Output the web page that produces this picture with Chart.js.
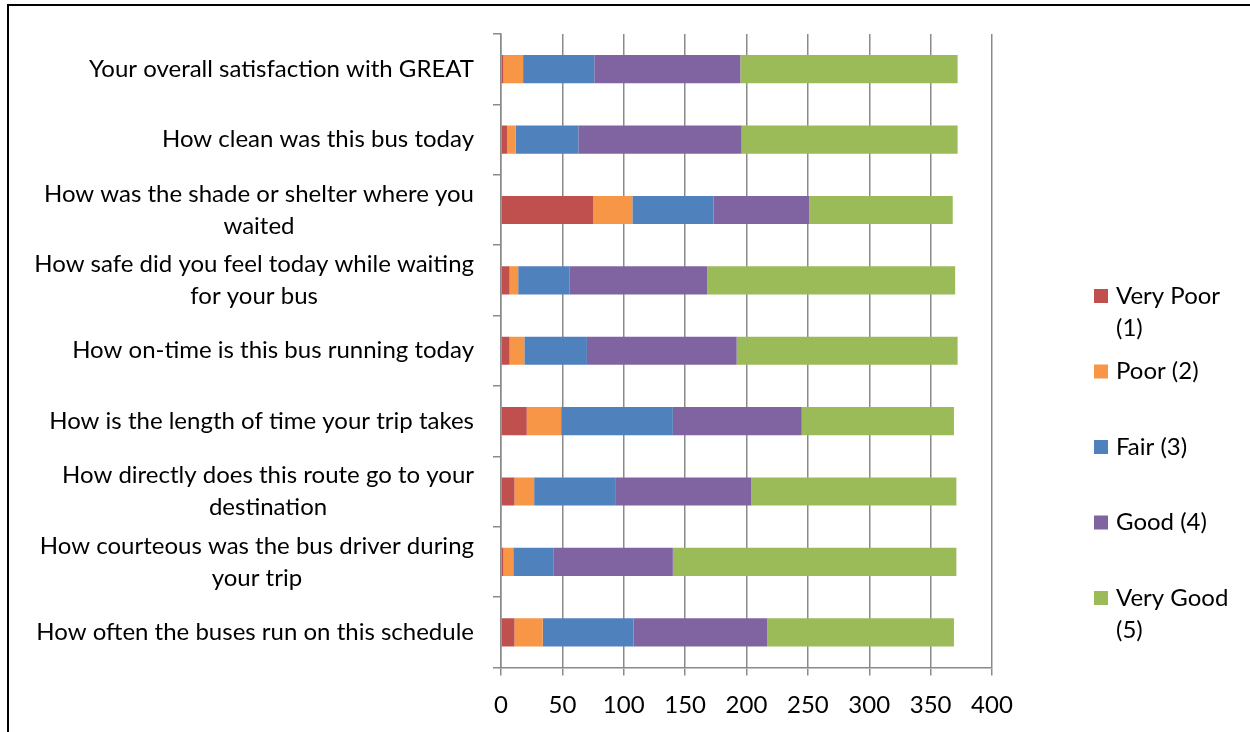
<!DOCTYPE html>
<html><head><meta charset="utf-8">
<script src="https://cdn.jsdelivr.net/npm/chart.js@4/dist/chart.umd.min.js"></script>
<style>
html,body{margin:0;padding:0;background:#fff;}
#wrap{position:relative;width:1250px;height:732px;overflow:hidden;background:#fff;}
#frame{position:absolute;left:7px;top:4px;width:1300px;height:800px;border-left:2px solid #000;border-top:2px solid #000;box-sizing:border-box;pointer-events:none;}
canvas{position:absolute;left:0;top:0;}
</style></head>
<body><div id="wrap"><canvas id="c" width="1250" height="732"></canvas><div id="frame"></div></div>
<script>
// Categories, top to bottom (each entry = wrapped lines of the label)
const categories = [
  ['Your overall satisfaction with GREAT'],
  ['How clean was this bus today'],
  ['How was the shade or shelter where you', 'waited'],
  ['How safe did you feel today while waiting', 'for your bus'],
  ['How on-time is this bus running today'],
  ['How is the length of time your trip takes'],
  ['How directly does this route go to your', 'destination'],
  ['How courteous was the bus driver during', 'your trip'],
  ['How often the buses run on this schedule']
];
const seriesNames = ['Very Poor (1)', 'Poor (2)', 'Fair (3)', 'Good (4)', 'Very Good (5)'];
const legendLines = [['Very Poor', '(1)'], ['Poor (2)'], ['Fair (3)'], ['Good (4)'], ['Very Good', '(5)']];
const veryPoor = [2, 5, 75, 7, 7, 21, 11, 2, 11];
const poor     = [16, 7, 32, 7, 12, 28, 16, 8, 23];
const fair     = [58, 51, 66, 42, 51, 91, 66, 33, 74];
const good     = [119, 133, 78, 112, 122, 105, 111, 97, 109];
const veryGood = [177, 176, 117, 202, 180, 124, 167, 231, 152];
const xTicks = [0, 50, 100, 150, 200, 250, 300, 350, 400];
const colors = ['#C0504D', '#F79646', '#4F81BD', '#8064A2', '#9BBB59'];

const FONT = 'Lato, "Open Sans", sans-serif';
const FS = 24;
const LH = 32;
const GRID = '#8a8a8a';

const catLabels = {
  id: 'catLabels',
  afterDraw(chart) {
    const ctx = chart.ctx, y = chart.scales.y;
    const right = chart.chartArea.left - 27;
    ctx.save();
    ctx.font = FS + 'px ' + FONT;
    ctx.fillStyle = '#000';
    ctx.textAlign = 'center';
    ctx.textBaseline = 'middle';
    categories.forEach((lines, i) => {
      const cy = y.getPixelForValue(i);
      const maxW = Math.max(...lines.map(l => ctx.measureText(l).width));
      const cx = right - maxW / 2;
      lines.forEach((l, j) => ctx.fillText(l, cx, cy + (j - (lines.length - 1) / 2) * LH));
    });
    ctx.restore();
  }
};

const sideLegend = {
  id: 'sideLegend',
  afterDraw(chart) {
    const ctx = chart.ctx, ca = chart.chartArea;
    const sx = ca.right + 102, tx = ca.right + 124;
    const y0 = ca.top + 262, step = 75.5;
    ctx.save();
    ctx.font = FS + 'px ' + FONT;
    ctx.textAlign = 'left';
    ctx.textBaseline = 'middle';
    legendLines.forEach((lines, i) => {
      const yy = y0 + i * step;
      ctx.fillStyle = colors[i];
      ctx.fillRect(sx, yy - 7, 14, 14);
      ctx.fillStyle = '#000';
      lines.forEach((l, j) => ctx.fillText(l, tx, yy + j * 32));
    });
    ctx.restore();
  }
};

const seriesValues = [veryPoor, poor, fair, good, veryGood];
new Chart(document.getElementById('c'), {
  type: 'bar',
  data: {
    labels: categories.map(l => l.join(' ')),
    datasets: seriesNames.map((n, i) => ({
      label: n,
      data: seriesValues[i],
      backgroundColor: colors[i],
      borderWidth: 0,
      barPercentage: 0.4,
      categoryPercentage: 1.0
    }))
  },
  options: {
    indexAxis: 'y',
    responsive: false,
    animation: false,
    layout: { padding: { left: 0, right: 258, top: 34, bottom: 0 } },
    plugins: { legend: { display: false }, tooltip: { enabled: false } },
    scales: {
      x: {
        stacked: true, min: 0, max: 400,
        afterBuildTicks(s) { s.ticks = xTicks.map(v => ({ value: v })); },
        ticks: { font: { family: FONT, size: FS }, color: '#000', padding: 15, maxRotation: 0 },
        grid: { color: GRID, lineWidth: 1.5, tickLength: 8 },
        border: { color: GRID, width: 1.5 },
        afterFit(s) { s.height = 64.5; }
      },
      y: {
        stacked: true,
        ticks: { display: false },
        grid: { offset: true, drawOnChartArea: false, tickLength: 8, color: GRID, lineWidth: 1.5 },
        border: { color: GRID, width: 1.5 },
        afterFit(s) { s.width = 501; }
      }
    }
  },
  plugins: [catLabels, sideLegend]
});
</script>
</body></html>
